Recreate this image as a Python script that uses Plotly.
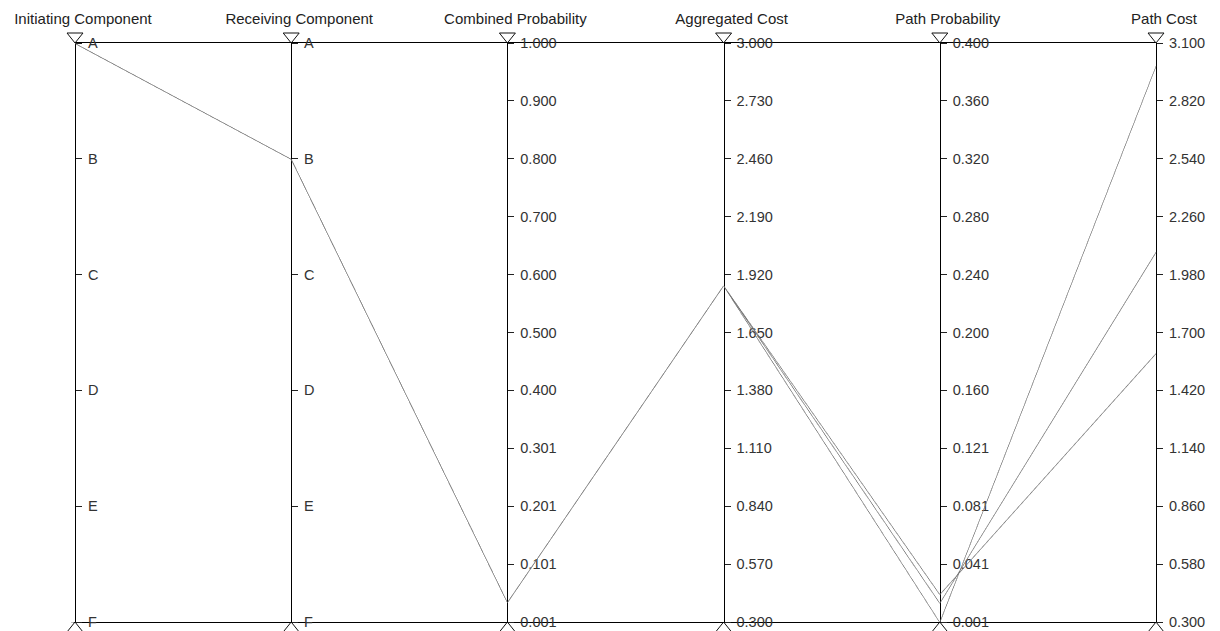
import plotly.graph_objects as go

# ---- data ----
dimension_labels = ["Initiating Component", "Receiving Component", "Combined Probability",
                    "Aggregated Cost", "Path Probability", "Path Cost"]
categories = ["A", "B", "C", "D", "E", "F"]
initiating_component = ["A", "A", "A"]
receiving_component = ["B", "B", "B"]
combined_probability = [0.035, 0.035, 0.035]
aggregated_cost = [1.87, 1.87, 1.87]
path_probability = [0.0008, 0.014, 0.020]
path_cost = [2.99, 2.09, 1.60]

combined_prob_ticks = ["0.001", "0.101", "0.201", "0.301", "0.400", "0.500",
                       "0.600", "0.700", "0.800", "0.900", "1.000"]
aggregated_cost_ticks = ["0.300", "0.570", "0.840", "1.110", "1.380", "1.650",
                         "1.920", "2.190", "2.460", "2.730", "3.000"]
path_prob_ticks = ["0.001", "0.041", "0.081", "0.121", "0.160", "0.200",
                   "0.240", "0.280", "0.320", "0.360", "0.400"]
path_cost_ticks = ["0.300", "0.580", "0.860", "1.140", "1.420", "1.700",
                   "1.980", "2.260", "2.540", "2.820", "3.100"]

cat_range = [0, len(categories) - 1]
combined_prob_range = [0.0008, 1.0]
aggregated_cost_range = [0.3, 3.0]
path_prob_range = [0.0008, 0.4]
path_cost_range = [0.3, 3.1]


def cat_code(v):
    # A at top, F at bottom
    return len(categories) - 1 - categories.index(v)


def even_ticks(rng, labels):
    n = len(labels) - 1
    return [rng[0] + (rng[1] - rng[0]) * k / n for k in range(n + 1)]


cat_tickvals = [cat_code(c) for c in categories]

axes_spec = [
    ([cat_code(v) for v in initiating_component], cat_range, cat_tickvals, categories),
    ([cat_code(v) for v in receiving_component], cat_range, cat_tickvals, categories),
    (combined_probability, combined_prob_range, even_ticks(combined_prob_range, combined_prob_ticks), combined_prob_ticks),
    (aggregated_cost, aggregated_cost_range, even_ticks(aggregated_cost_range, aggregated_cost_ticks), aggregated_cost_ticks),
    (path_probability, path_prob_range, even_ticks(path_prob_range, path_prob_ticks), path_prob_ticks),
    (path_cost, path_cost_range, even_ticks(path_cost_range, path_cost_ticks), path_cost_ticks),
]

# ---- layout geometry (pixels, page has an 8px body margin) ----
W, H = 1212, 623
AX_LEFT, AX_RIGHT = 67, 1148          # first / last axis
AX_TOP, AX_BOTTOM = 35, 614           # top / bottom of axes
VPAD = 2                              # parcoords internal vertical padding

FONT = "Liberation Sans, Arial, sans-serif"
n_dim = len(dimension_labels)

pc_dims = []
for label, (vals, rng, tv, tt) in zip(dimension_labels, axes_spec):
    pc_dims.append(dict(label=label, values=vals, range=rng,
                        tickvals=[rng[0]], ticktext=[""]))

fig = go.Figure()
fig.add_trace(go.Parcoords(
    dimensions=pc_dims,
    line=dict(color="#737373"),
    domain=dict(x=[AX_LEFT / W, (AX_RIGHT + 0.3) / W],
                y=[(H - (AX_BOTTOM + VPAD) - 0.2) / H, (H - (AX_TOP - VPAD)) / H]),
    labelfont=dict(family=FONT, size=1, color="rgba(0,0,0,0)"),
    tickfont=dict(family=FONT, size=1, color="rgba(0,0,0,0)"),
    rangefont=dict(size=1, color="rgba(0,0,0,0)"),
))

y_domain = [(H - AX_BOTTOM) / H, (H - AX_TOP) / H]
axis_positions = [(AX_LEFT + (AX_RIGHT - AX_LEFT) * k / (n_dim - 1)) / W for k in range(n_dim)]
layout_axes = {}
for k, (vals, rng, tv, tt) in enumerate(axes_spec):
    name = "yaxis" if k == 0 else f"yaxis{k + 1}"
    ax = dict(range=rng, tickvals=tv, ticktext=tt, side="right", anchor="free",
              position=axis_positions[k],
              showline=True, linecolor="black", linewidth=1, ticks="outside", ticklen=6,
              tickcolor="#222", showgrid=False, zeroline=False, fixedrange=True,
              automargin=False, ticklabelstandoff=3,
              tickfont=dict(family=FONT, size=14.5, color="#333"))
    if k == 0:
        ax["domain"] = y_domain
    else:
        ax["overlaying"] = "y"
    layout_axes[name] = ax
    fig.add_trace(go.Scatter(x=[], y=[], xaxis="x", yaxis="y" if k == 0 else f"y{k + 1}",
                             showlegend=False, hoverinfo="skip"))

fig.update_layout(
    template="none",
    width=W, height=H,
    margin=dict(l=0, r=0, t=0, b=0, autoexpand=False),
    paper_bgcolor="white", plot_bgcolor="rgba(0,0,0,0)",
    showlegend=False,
    xaxis=dict(domain=[AX_LEFT / W, AX_RIGHT / W], range=[0, n_dim - 1], side="top",
               tickvals=list(range(n_dim)), ticktext=dimension_labels, ticks="",
               showline=True, mirror=True, linecolor="black", linewidth=1,
               showgrid=False, zeroline=False, fixedrange=True, automargin=False,
               ticklabelstandoff=12, ticklabelshift=8, ticklabeloverflow="allow",
               tickfont=dict(family=FONT, size=15, color="#222")),
    **layout_axes,
)

# filter handles: open triangle on top, chevron at the bottom of each axis
shapes = []
for k in range(n_dim):
    shapes.append(dict(type="path", xref="paper", yref="paper", xsizemode="pixel", ysizemode="pixel",
                       xanchor=axis_positions[k], yanchor=y_domain[1], path="M-8,10 L8,10 L0,0 Z",
                       line=dict(color="#111", width=1), fillcolor="rgba(0,0,0,0)"))
    shapes.append(dict(type="path", xref="paper", yref="paper", xsizemode="pixel", ysizemode="pixel",
                       xanchor=axis_positions[k], yanchor=y_domain[0], path="M-8,-10 L0,0 L8,-10",
                       line=dict(color="#111", width=1), fillcolor="rgba(0,0,0,0)"))
fig.update_layout(shapes=shapes)

fig.write_html("out.html")
